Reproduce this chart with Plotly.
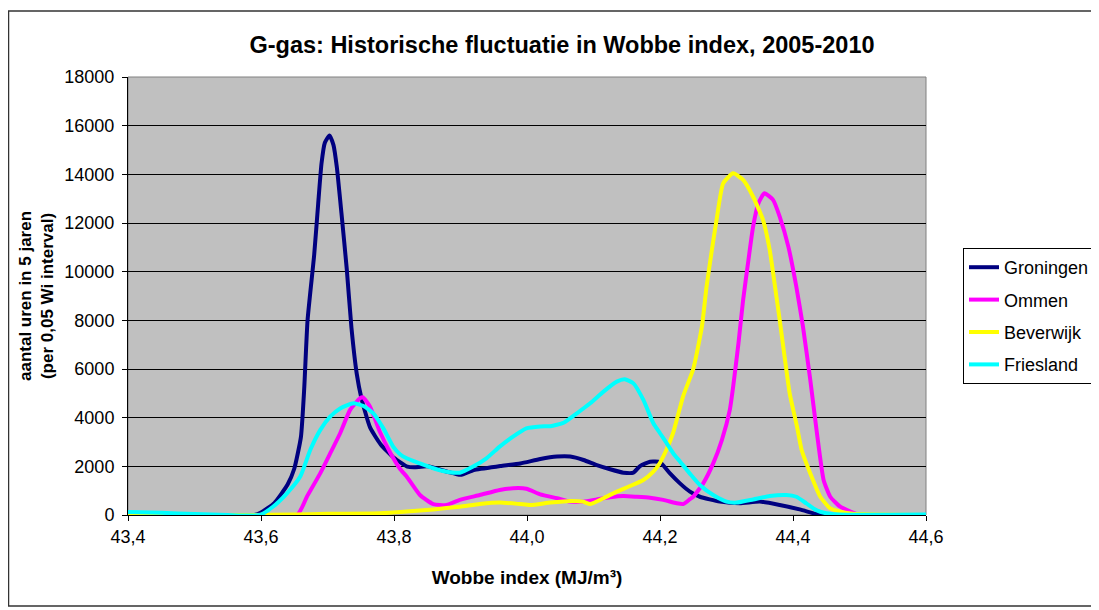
import plotly.graph_objects as go

# ---- data ----
groningen_x = [43.40, 43.59, 43.60, 43.62, 43.64, 43.65, 43.66, 43.665, 43.67, 43.68, 43.686, 43.691,
               43.696, 43.703, 43.709, 43.714, 43.721, 43.729, 43.736, 43.744, 43.751, 43.764, 43.78,
               43.80, 43.82, 43.83, 43.85, 43.88, 43.90, 43.92, 43.96, 43.99, 44.02, 44.045, 44.065,
               44.085, 44.105, 44.125, 44.145, 44.16, 44.17, 44.185, 44.20, 44.215, 44.23, 44.245,
               44.26, 44.29, 44.32, 44.35, 44.38, 44.41, 44.435, 44.445, 44.60]
groningen_y = [0, 0, 100, 490, 1250, 1900, 3200, 5200, 8000, 10700, 12800, 14450,
               15300, 15600, 15200, 14300, 12400, 10100, 7700, 5800, 4800, 3600, 2900,
               2350, 1990, 1960, 2000, 1780, 1650, 1850, 2010, 2120, 2300, 2400, 2400,
               2260, 2050, 1880, 1740, 1740, 2010, 2190, 2170, 1710, 1300, 960,
               750, 550, 480, 550, 410, 230, 40, 0, 0]

ommen_x = [43.40, 43.654, 43.669, 43.689, 43.704, 43.719, 43.734, 43.749, 43.753, 43.764, 43.779,
           43.795, 43.809, 43.819, 43.839, 43.859, 43.879, 43.899, 43.929, 43.959, 43.979, 43.999,
           44.02, 44.045, 44.065, 44.085, 44.105, 44.125, 44.145, 44.165, 44.185, 44.205, 44.225,
           44.235, 44.245, 44.25, 44.265, 44.28, 44.293, 44.305, 44.31, 44.318, 44.325, 44.333,
           44.34, 44.348, 44.357, 44.37, 44.38, 44.393, 44.405, 44.415, 44.426, 44.436, 44.446,
           44.456, 44.471, 44.49, 44.50, 44.60]
ommen_y = [0, 0, 750, 1710, 2530, 3360, 4320, 4800, 4840, 4450, 3400,
           2530, 1900, 1580, 820, 450, 410, 620, 820, 1030, 1100, 1080,
           850, 690, 550, 550, 640, 730, 780, 750, 710, 620, 480,
           450, 650, 750, 1300, 2120, 3080, 4320, 5270, 7060, 8840, 10480,
           11850, 12810, 13220, 12950, 12260, 11030, 9380, 7740, 5550, 3360, 1440,
           750, 340, 100, 0, 0]

beverwijk_x = [43.40, 43.58, 43.65, 43.70, 43.779, 43.819, 43.859, 43.899, 43.929, 43.959, 43.989,
               44.005, 44.035, 44.065, 44.084, 44.095, 44.115, 44.135, 44.155, 44.175, 44.19,
               44.20, 44.21, 44.22, 44.235, 44.25, 44.263, 44.27, 44.278, 44.285, 44.295, 44.31,
               44.325, 44.34, 44.355, 44.365, 44.373, 44.38, 44.388, 44.395, 44.406, 44.413,
               44.426, 44.441, 44.456, 44.471, 44.49, 44.60]
beverwijk_y = [0, 0, 20, 50, 70, 140, 230, 340, 450, 510, 450,
               410, 510, 580, 550, 450, 690, 960, 1190, 1440, 1780,
               2150, 2700, 3400, 4900, 6000, 7740, 9380, 10890, 12120, 13630, 14040,
               13770, 13080, 12120, 10890, 9380, 8010, 6370, 5000, 3630, 2670,
               1710, 750, 270, 140, 50, 0]

friesland_x = [43.40, 43.45, 43.50, 43.55, 43.598, 43.618, 43.639, 43.659, 43.674, 43.689, 43.704,
               43.719, 43.739, 43.754, 43.769, 43.784, 43.799, 43.809, 43.819, 43.839, 43.859,
               43.879, 43.899, 43.919, 43.939, 43.959, 43.979, 43.999, 44.02, 44.035, 44.055,
               44.075, 44.095, 44.115, 44.135, 44.147, 44.16, 44.175, 44.19, 44.20, 44.21,
               44.22, 44.23, 44.245, 44.26, 44.28, 44.30, 44.315, 44.34, 44.365, 44.39, 44.405,
               44.42, 44.435, 44.45, 44.47, 44.60]
friesland_y = [120, 90, 40, 0, 0, 340, 890, 1580, 2670, 3490, 4040,
               4380, 4590, 4480, 4180, 3560, 2800, 2500, 2330, 2120, 1920,
               1780, 1740, 1990, 2330, 2810, 3220, 3560, 3640, 3650, 3790,
               4180, 4590, 5070, 5480, 5580, 5410, 4730, 3770, 3360, 2950,
               2530, 2200, 1700, 1230, 820, 550, 510, 640, 780, 820, 750,
               480, 200, 70, 20, 20]

series_names = ["Groningen", "Ommen", "Beverwijk", "Friesland"]
series_colors = ["#000080", "#FF00FF", "#FFFF00", "#00FFFF"]

x_tickvals = [43.4, 43.6, 43.8, 44.0, 44.2, 44.4, 44.6]
x_ticktext = ["43,4", "43,6", "43,8", "44,0", "44,2", "44,4", "44,6"]
y_tickvals = [0, 2000, 4000, 6000, 8000, 10000, 12000, 14000, 16000, 18000]
y_ticktext = [str(v) for v in y_tickvals]

FONT = "Liberation Sans, Arial, sans-serif"

fig = go.Figure()
for name, color, xs, ys in zip(series_names, series_colors,
                               [groningen_x, ommen_x, beverwijk_x, friesland_x],
                               [groningen_y, ommen_y, beverwijk_y, friesland_y]):
    fig.add_trace(go.Scatter(x=xs, y=ys, mode="lines", name=name, legendgroup=name,
                             line=dict(color=color, width=4, shape="spline", smoothing=0.5)))

# page is offset by the default 8px body margin; layout values below are figure coords
W, H = 1099, 610
L, R, T, B = 120, 918, 69, 507
pw, ph = R - L, B - T

def px(xp):
    return (xp - L) / pw

def py(yp):
    return (B - yp) / ph

fig.update_layout(
    width=W, height=H,
    margin=dict(l=L, r=W - R, t=T, b=H - B, autoexpand=False),
    paper_bgcolor="white",
    plot_bgcolor="#C0C0C0",
    font=dict(family=FONT, color="black", size=15),
    title=dict(text="<b>G-gas: Historische fluctuatie in Wobbe index, 2005-2010</b>",
               x=px(554), xref="paper", xanchor="center", y=1 - 37 / H, yanchor="middle",
               font=dict(size=23.5, family=FONT, color="black")),
    showlegend=True,
    legend=dict(x=px(955), y=py(240), xanchor="left", yanchor="top",
                bordercolor="black", borderwidth=1, bgcolor="white",
                font=dict(size=18, family=FONT, color="black"),
                itemwidth=30, tracegroupgap=6),
    xaxis=dict(range=[43.4, 44.6], tickvals=x_tickvals, ticktext=x_ticktext,
               showgrid=False, zeroline=False, showline=True, linecolor="black", linewidth=1,
               ticks="outside", ticklen=5, tickcolor="black",
               tickfont=dict(size=18, family=FONT, color="black"),
               title=dict(text="<b>Wobbe index (MJ/m³)</b>", standoff=25,
                          font=dict(size=19, family=FONT, color="black"))),
    yaxis=dict(range=[0, 18000], tickvals=y_tickvals, ticktext=y_ticktext,
               showgrid=True, gridcolor="black", gridwidth=1, zeroline=False,
               showline=True, linecolor="black", linewidth=1,
               ticks="outside", ticklen=5, tickcolor="black", ticklabelstandoff=4,
               tickfont=dict(size=18, family=FONT, color="black"),
               title=dict(text="<b>aantal uren in 5 jaren<br>(per 0,05 Wi interval)</b>", standoff=6,
                          font=dict(size=17, family=FONT, color="black"))),
    shapes=[
        dict(type="rect", xref="paper", yref="paper", x0=0, x1=1, y0=0, y1=1,
             line=dict(color="#808080", width=1), layer="below"),
        dict(type="rect", xref="paper", yref="paper", x0=px(0.5), x1=px(1102), y0=py(598), y1=py(3),
             line=dict(color="#333333", width=1.5), fillcolor="rgba(0,0,0,0)"),
    ],
)

fig.write_html("out.html")
